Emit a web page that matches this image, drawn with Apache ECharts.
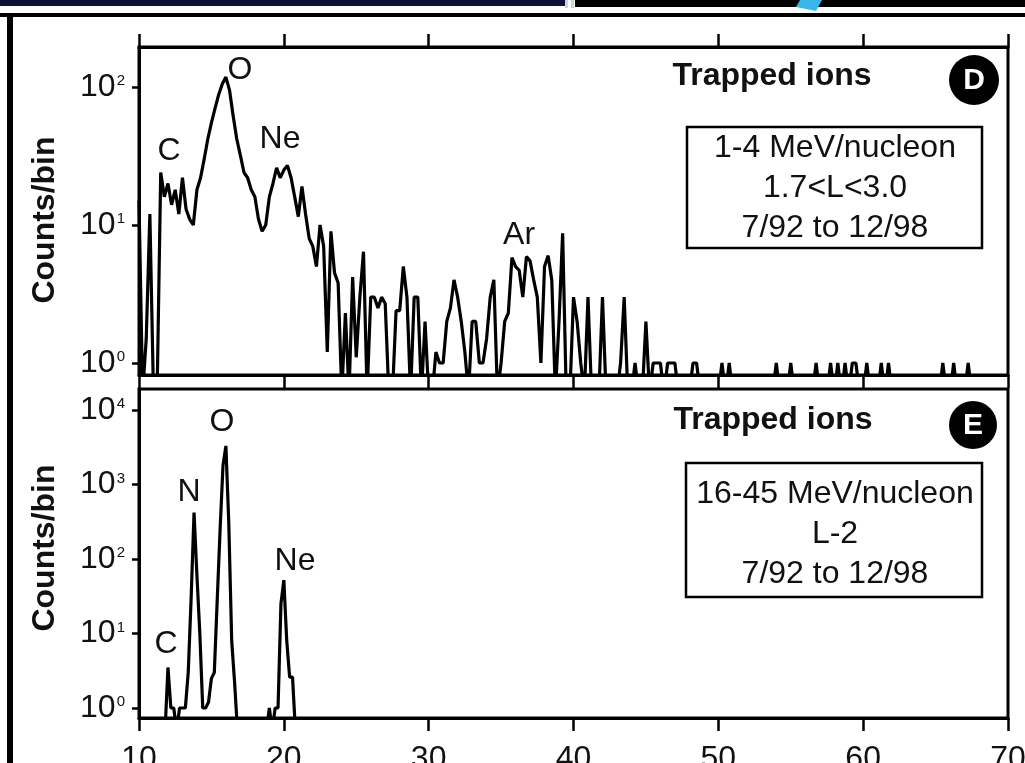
<!DOCTYPE html>
<html>
<head>
<meta charset="utf-8">
<script src="https://cdn.jsdelivr.net/npm/echarts@6/dist/echarts.min.js"></script>
<style>
  html, body { margin: 0; padding: 0; background: #fff; }
  #chart { width: 1025px; height: 763px; }
</style>
</head>
<body>
<div id="chart"></div>
<script>
// Mass axis (atomic mass units) shared by both panels
const massTicks = [10, 20, 30, 40, 50, 60, 70];
const decadesLow = [1, 10, 100];
const decadesHigh = [1, 10, 100, 1000, 10000];

// Panel D: 1-4 MeV/nucleon, counts per 0.25 amu bin starting at mass 10
const lowBinStart = 10;
const lowBinWidth = 0.25;
const lowCounts = [
  15, 0, 1.5, 12, 0, 0, 24, 16, 20, 14,
  18, 12, 22, 13, 11, 10, 18, 22, 30, 42,
  55, 70, 88, 105, 118, 95, 62, 42, 32, 24,
  22, 18, 16, 11, 9, 10, 16, 20, 26, 22,
  25, 27, 22, 16, 11.5, 19, 12, 8, 7, 5,
  10, 7, 1.2, 9, 4.5, 3.8, 0, 2.3, 0, 4.2,
  1.1, 3, 6.4, 0, 3, 3, 2.5, 3, 2.7, 0,
  0, 2.4, 2.4, 5, 3, 0, 3, 3, 0, 2,
  0, 0, 1.2, 1, 1, 2, 2.5, 4, 3, 2,
  1.2, 0, 2, 2, 1, 1, 1.5, 3, 4, 0,
  1, 2, 2.3, 5.8, 5, 4.7, 3, 5.9, 5.5, 4,
  3, 1, 5, 6, 4, 0, 2, 8.7, 0, 0,
  3, 2, 1, 0, 3, 0, 0, 0, 3, 0,
  0, 0, 0, 1, 3, 0, 0, 1, 0, 0,
  2, 0, 1, 1, 1, 0, 1, 1, 1, 0,
  0, 0, 0, 1, 1, 0, 0, 0, 0, 0,
  0, 1, 0, 1, 0, 0, 0, 0, 0, 0,
  0, 0, 0, 0, 0, 0, 1, 0, 0, 0,
  1, 0, 0, 0, 0, 0, 0, 1, 0, 0,
  0, 1, 0, 1, 0, 1, 0, 1, 1, 0,
  0, 1, 0, 0, 0, 1, 0, 1, 0, 0,
  0, 0, 0, 0, 0, 0, 0, 0, 0, 0,
  0, 0, 1, 0, 0, 1, 0, 0, 0, 1,
  0, 0, 0, 0, 0, 0, 0, 0, 0, 0
];

// Panel E: 16-45 MeV/nucleon, counts per 0.2 amu bin starting at mass 10
const highBinStart = 10;
const highBinWidth = 0.2;
const highCounts = [
  0, 0, 0, 0, 0, 0, 0, 0, 0, 0,
  3.5, 1, 1, 0, 1, 1, 1, 3, 30, 420,
  60, 10, 1, 1, 1.2, 2.5, 3, 28, 250, 1800,
  3300, 300, 8, 2.2, 0, 0, 0, 0, 0, 0,
  0, 0, 0, 0, 0, 1, 0, 1, 1, 25,
  52, 8, 2.6, 2.6, 0, 0, 0, 0, 0, 0
];

// Element labels placed in data space (mass, counts)
const lowPeaks = [
  { name: 'C', mass: 12.07, counts: 34 },
  { name: 'O', mass: 16.97, counts: 133 },
  { name: 'Ne', mass: 19.74, counts: 42 },
  { name: 'Ar', mass: 36.24, counts: 8.5 }
];
const highPeaks = [
  { name: 'C', mass: 11.86, counts: 7.2 },
  { name: 'N', mass: 13.45, counts: 794 },
  { name: 'O', mass: 15.73, counts: 6900 },
  { name: 'Ne', mass: 20.77, counts: 94 }
];

const FONT = '"Liberation Sans", Arial, Helvetica, sans-serif';
const INK = '#111';
const LOW_FLOOR = 0.6;   // empty bins are drawn just below the axis floor
const HIGH_FLOOR = 0.5;

function binsToPoints(start, width, counts, floor) {
  return counts.map((c, i) => [start + i * width, c > 0 ? c : floor]);
}

function decadeLabel(v) {
  return '{b|10}{s|' + Math.round(Math.log10(v)) + '}';
}

// exponent raised by padding below it
const yRich = {
  b: { fontSize: 32, fontFamily: FONT, color: INK },
  s: { fontSize: 15, fontFamily: FONT, color: INK, padding: [0, 0, 12, 1] }
};

function massAxis(gridIndex, position, showLabels) {
  return {
    type: 'value', gridIndex, position,
    min: 10, max: 70, interval: 10,
    axisLine: { show: true, onZero: false, lineStyle: { color: '#000', width: 3 } },
    axisTick: { show: true, inside: false, length: 13, lineStyle: { color: '#000', width: 2.5 } },
    axisLabel: {
      show: showLabels, margin: 25, fontSize: 32, fontFamily: FONT, color: INK,
      customValues: massTicks
    },
    splitLine: { show: false }
  };
}

function countsAxis(gridIndex, lo, hi, decades) {
  return {
    type: 'log', logBase: 10, gridIndex,
    min: Math.pow(10, lo), max: Math.pow(10, hi),
    axisLine: { show: true, lineStyle: { color: '#000', width: 3 } },
    axisTick: { show: true, inside: false, length: 7, customValues: decades,
      lineStyle: { color: '#000', width: 2.5 } },
    axisLabel: { show: true, margin: 14, customValues: decades, formatter: decadeLabel, rich: yRich },
    splitLine: { show: false }
  };
}

function peakLabels(xIdx, yIdx, peaks) {
  return {
    type: 'scatter', xAxisIndex: xIdx, yAxisIndex: yIdx,
    symbol: 'circle', symbolSize: 2, silent: true,
    itemStyle: { color: 'rgba(255,255,255,0)' },
    label: { show: true, position: [1, 1], align: 'center', verticalAlign: 'middle',
      formatter: p => p.name, fontSize: 32, fontFamily: FONT, color: INK, opacity: 1 },
    data: peaks.map(p => ({ name: p.name, value: [p.mass, p.counts] }))
  };
}

const chart = echarts.init(document.getElementById('chart'), null, { renderer: 'canvas' });

const titleStyle = { fontSize: 32, fontWeight: 'bold', fontFamily: FONT, fill: INK, align: 'center', verticalAlign: 'middle' };
const boxTextStyle = { fontSize: 32, lineHeight: 40, fontFamily: FONT, fill: INK, align: 'center', verticalAlign: 'middle' };

chart.setOption({
  animation: false,
  backgroundColor: '#fff',
  grid: [
    { left: 139, top: 47, width: 869, height: 328, outerBoundsMode: 'none', containLabel: false,
      show: true, borderColor: '#000', borderWidth: 3, backgroundColor: 'transparent' },
    { left: 139, top: 389, width: 869, height: 329, outerBoundsMode: 'none', containLabel: false,
      show: true, borderColor: '#000', borderWidth: 3, backgroundColor: 'transparent' }
  ],
  xAxis: [
    massAxis(0, 'bottom', false),
    massAxis(0, 'top', false),
    massAxis(1, 'bottom', true)
  ],
  yAxis: [
    countsAxis(0, -0.087, 2.29, decadesLow),
    countsAxis(1, -0.134, 4.282, decadesHigh)
  ],
  series: [
    {
      type: 'line', xAxisIndex: 0, yAxisIndex: 0, clip: true,
      showSymbol: false, symbol: 'none',
      lineStyle: { color: '#000', width: 3.2 },
      data: binsToPoints(lowBinStart, lowBinWidth, lowCounts, LOW_FLOOR)
    },
    {
      type: 'line', xAxisIndex: 2, yAxisIndex: 1, clip: true,
      showSymbol: false, symbol: 'none',
      lineStyle: { color: '#000', width: 3.2 },
      data: binsToPoints(highBinStart, highBinWidth, highCounts, HIGH_FLOOR)
    },
    peakLabels(0, 0, lowPeaks),
    peakLabels(2, 1, highPeaks)
  ],
  graphic: [
    // slide frame around the figure
    { type: 'rect', shape: { x: 0, y: 0, width: 565, height: 6 }, style: { fill: '#0b1234' }, silent: true },
    { type: 'rect', shape: { x: 565, y: 0, width: 3, height: 8 }, style: { fill: '#cfd3dc' }, silent: true },
    { type: 'rect', shape: { x: 571, y: 0, width: 3, height: 8 }, style: { fill: '#cfd3dc' }, silent: true },
    { type: 'rect', shape: { x: 575, y: 0, width: 450, height: 7 }, style: { fill: '#000' }, silent: true },
    { type: 'polygon', shape: { points: [[800, 0], [822, 0], [816, 11], [796, 7]] }, style: { fill: '#39b6e8' }, silent: true },
    { type: 'rect', shape: { x: 0, y: 13, width: 1025, height: 4 }, style: { fill: '#000' }, silent: true },
    { type: 'rect', shape: { x: 7, y: 13, width: 6, height: 750 }, style: { fill: '#000' }, silent: true },

    // axis titles
    { type: 'text', x: 45, y: 220, rotation: Math.PI / 2, style: Object.assign({ text: 'Counts/bin' }, titleStyle), silent: true },
    { type: 'text', x: 45, y: 548, rotation: Math.PI / 2, style: Object.assign({ text: 'Counts/bin' }, titleStyle), silent: true },

    // panel D annotations
    { type: 'text', x: 772, y: 76, style: Object.assign({ text: 'Trapped ions' }, titleStyle), silent: true },
    { type: 'circle', shape: { cx: 974, cy: 80, r: 25 }, style: { fill: '#000' }, silent: true },
    { type: 'text', x: 974, y: 81,
      style: { text: 'D', fontSize: 30, fontWeight: 'bold', fontFamily: FONT, fill: '#fff', align: 'center', verticalAlign: 'middle' }, silent: true },
    { type: 'rect', shape: { x: 687, y: 127, width: 295, height: 121 },
      style: { fill: 'none', stroke: '#000', lineWidth: 2.5 }, silent: true },
    { type: 'text', x: 835, y: 188, style: Object.assign({ text: '1-4 MeV/nucleon\n1.7<L<3.0\n7/92 to 12/98' }, boxTextStyle), silent: true },

    // panel E annotations
    { type: 'text', x: 773, y: 420, style: Object.assign({ text: 'Trapped ions' }, titleStyle), silent: true },
    { type: 'circle', shape: { cx: 973, cy: 425, r: 24 }, style: { fill: '#000' }, silent: true },
    { type: 'text', x: 973, y: 426,
      style: { text: 'E', fontSize: 30, fontWeight: 'bold', fontFamily: FONT, fill: '#fff', align: 'center', verticalAlign: 'middle' }, silent: true },
    { type: 'rect', shape: { x: 686, y: 463, width: 296, height: 134 },
      style: { fill: 'none', stroke: '#000', lineWidth: 2.5 }, silent: true },
    { type: 'text', x: 835, y: 534, style: Object.assign({ text: '16-45 MeV/nucleon\nL-2\n7/92 to 12/98' }, boxTextStyle), silent: true }
  ]
});
</script>
</body>
</html>
